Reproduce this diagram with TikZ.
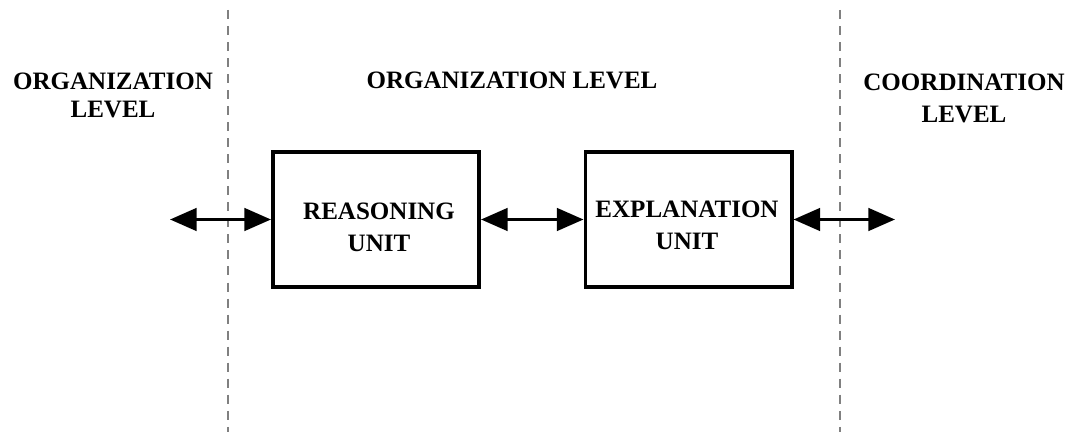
\documentclass[tikz,border=0pt]{standalone}
\usepackage{fontspec}
\setmainfont{Liberation Serif}
\usepackage{tikz}
\usetikzlibrary{arrows.meta, positioning}
\tikzset{
	unit/.style={draw=black, line width=2.8pt, minimum width=5.15cm, minimum height=3.375cm}
}
\tikzset{
	caption/.style={font=\bfseries\fontsize{17.8}{22.8}\selectfont, align=center, anchor=base, inner sep=0pt}
}
\tikzset{
	link/.style={line width=2.4pt, {Triangle[length=19pt,width=16pt]}-{Triangle[length=19pt,width=16pt]}}
}
\tikzset{
	divider/.style={draw=gray, line width=0.8pt, dash pattern=on 6.4pt off 5pt}
}

\begin{document}
\begin{tikzpicture}[x=0.025cm, y=-0.025cm]

		% canvas, in pixels of the original figure
		\useasboundingbox (0,0) rectangle (1072,432);
		\newcommand{\yarrow}{219.5}

		% level dividers
		\draw[divider] (228,10) -- (228,432);
		\draw[divider] (840,10) -- (840,432);

		% level titles (base = last line)
		\node[caption, font=\bfseries\fontsize{17.8}{20.6}\selectfont] (orgleft) at (113,118) {ORGANIZATION\\LEVEL};
		\node[caption] (orgmid) at (512,89) {ORGANIZATION LEVEL};
		\node[caption] (coordright) at (964,123) {COORDINATION\\LEVEL};

		% units
		\node[unit] (reason) at (376,\yarrow) {};
		\node[unit] (explain) at (688.5,\yarrow) {};
		\node[caption] (reasontext) at (379,252) {REASONING\\UNIT};
		\node[caption] (explaintext) at (687,250) {EXPLANATION\\UNIT};

		% free ends
		\coordinate (leftend) at (170,\yarrow);
		\coordinate (rightend) at (895,\yarrow);

		% links
		\draw[link] (leftend) -- (reason.west);
		\draw[link] (reason.east) -- (explain.west);
		\draw[link] (explain.east) -- (rightend);

	\end{tikzpicture}
\end{document}
